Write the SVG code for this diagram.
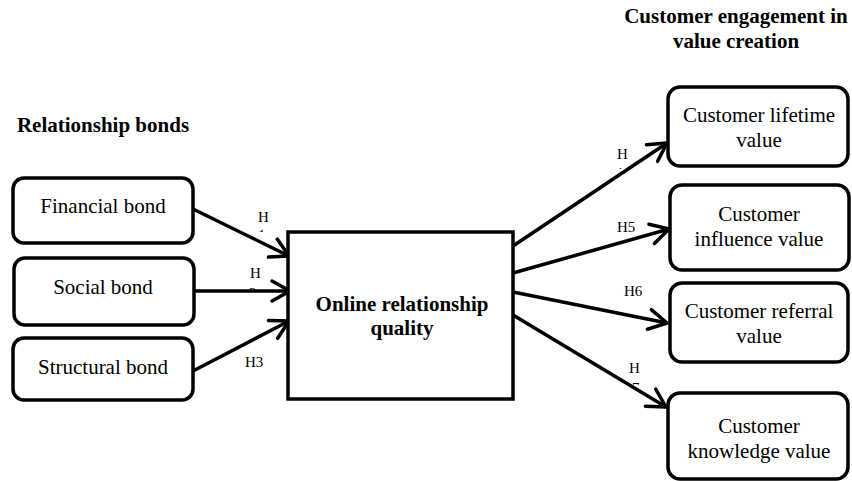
<svg xmlns="http://www.w3.org/2000/svg" width="852" height="481" viewBox="0 0 852 481">
<style>
.box{fill:#fff;stroke:#000;stroke-width:3.5}
.t{font-family:"Liberation Serif","Times New Roman",serif;font-size:21px;fill:#000;text-anchor:middle}
.b{font-weight:bold}
.h{font-family:"Liberation Serif","Times New Roman",serif;font-size:15px;fill:#000}
.c{fill:none;stroke:#000;stroke-width:3.5;marker-end:url(#arr)}
</style>
<defs>
<marker id="arr" markerUnits="userSpaceOnUse" viewBox="-22 -13 26 26" refX="0" refY="0" markerWidth="26" markerHeight="26" orient="auto">
<path d="M-18,-10 L0,0 L-18,10" fill="none" stroke="#000" stroke-width="3.5" stroke-linecap="round" stroke-linejoin="round"/>
</marker>
<clipPath id="c1"><rect x="255" y="227" width="15" height="5"/></clipPath>
<clipPath id="c2"><rect x="245" y="285" width="15" height="5"/></clipPath>
<clipPath id="c4"><rect x="612" y="165" width="15" height="4"/></clipPath>
<clipPath id="c7"><rect x="626" y="381" width="15" height="4"/></clipPath>
</defs>
<text class="t b" x="103" y="132">Relationship bonds</text>
<text class="t b" x="736" y="23">Customer engagement in</text>
<text class="t b" x="736" y="48">value creation</text>
<g id="connectors">
<path class="c" d="M193,209 L289,256"/>
<path class="c" d="M194,291 L290,291"/>
<path class="c" d="M193,371 L289,321"/>
<path class="c" d="M513,246 L667,143"/>
<path class="c" d="M513,273 L669,229"/>
<path class="c" d="M513,292 L667,323"/>
<path class="c" d="M513,315 L666,407"/>
<text class="h" x="258" y="222">H</text>
<text class="h" x="258" y="240" clip-path="url(#c1)">1</text>
<text class="h" x="250" y="278">H</text>
<text class="h" x="249" y="298" clip-path="url(#c2)">2</text>
<text class="h" x="245" y="367">H3</text>
<text class="h" x="617" y="159">H</text>
<text class="h" x="615" y="178" clip-path="url(#c4)">4</text>
<text class="h" x="617" y="232">H5</text>
<text class="h" x="624" y="296">H6</text>
<text class="h" x="629" y="373">H</text>
<text class="h" x="632" y="393" clip-path="url(#c7)">7</text>
</g>
<g id="financial"><rect class="box" x="13" y="178" width="180" height="65" rx="11"/><text class="t" x="103" y="213">Financial bond</text></g>
<g id="social"><rect class="box" x="14" y="258" width="180" height="67" rx="11"/><text class="t" x="103" y="294">Social bond</text></g>
<g id="structural"><rect class="box" x="13" y="338" width="180" height="62" rx="11"/><text class="t" x="103" y="374">Structural bond</text></g>
<g id="quality"><rect x="288" y="232" width="225" height="167" fill="#fff" stroke="#000" stroke-width="3.5"/><text class="t b" x="402" y="311">Online relationship</text><text class="t b" x="402" y="335">quality</text></g>
<g id="lifetime"><rect class="box" x="668" y="87" width="180" height="79" rx="12"/><text class="t" x="759" y="122">Customer lifetime</text><text class="t" x="759" y="147">value</text></g>
<g id="influence"><rect class="box" x="670" y="185" width="179" height="85" rx="12"/><text class="t" x="759" y="221">Customer</text><text class="t" x="759" y="246">influence value</text></g>
<g id="referral"><rect class="box" x="670" y="283" width="178" height="79" rx="12"/><text class="t" x="759" y="318">Customer referral</text><text class="t" x="759" y="343">value</text></g>
<g id="knowledge"><rect class="box" x="668" y="393" width="180" height="86" rx="12"/><text class="t" x="759" y="433">Customer</text><text class="t" x="759" y="458">knowledge value</text></g>
</svg>
